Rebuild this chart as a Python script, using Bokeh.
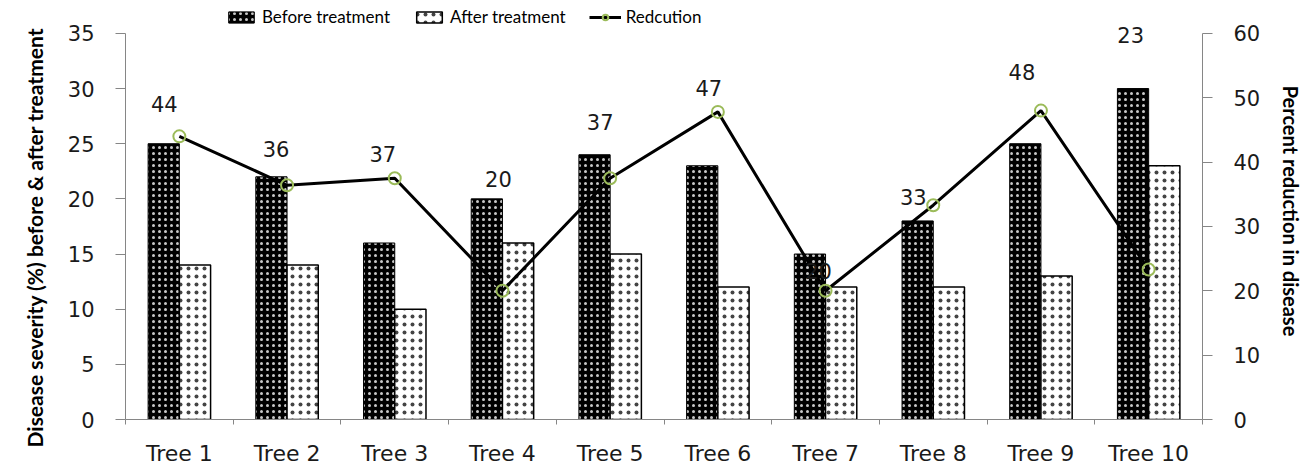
import numpy as np
from bokeh.plotting import figure
from bokeh.models import (Range1d, LinearAxis, FixedTicker, Legend, LegendItem,
                          ColumnDataSource, Title)
from bokeh.core.properties import value
from bokeh.embed import file_html
from bokeh.resources import INLINE

trees = ["Tree 1", "Tree 2", "Tree 3", "Tree 4", "Tree 5",
         "Tree 6", "Tree 7", "Tree 8", "Tree 9", "Tree 10"]
before = [25, 22, 16, 20, 24, 23, 15, 18, 25, 30]
after = [14, 14, 10, 16, 15, 12, 12, 12, 13, 23]
reduction = [44.0, 36.4, 37.5, 20.0, 37.5, 47.8, 20.0, 33.3, 48.0, 23.3]
reduction_labels = ["44", "36", "37", "20", "37", "47", "20", "33", "48", "23"]
left_ticks = [0, 5, 10, 15, 20, 25, 30, 35]
right_ticks = [0, 10, 20, 30, 40, 50, 60]

# label placement (screen pixel offsets from each point)
label_dx = [-15, -11, -12, -4, -10, -9, -7, -20, -19, -18]
label_dy = [-32, -36, -24, -112, -56, -24, -20, -8, -39, -235]

n = len(trees)
centers = np.arange(n) + 0.5
bw = 0.29

LEFT_MAX, RIGHT_MAX = 35, 60
HEADROOM = 37.8 / 35.0   # frame extends above the axes' top for legend/labels

AXIS_GRAY = "#868686"
TICK_FONT = "DejaVu Sans"
TITLE_FONT = "Lato"

p = figure(width=1312, height=468, output_backend="svg", toolbar_location=None,
           x_range=Range1d(0, n), y_range=Range1d(0, LEFT_MAX * HEADROOM),
           min_border_left=125, min_border_right=110, min_border_top=2,
           min_border_bottom=46)
p.outline_line_color = None
p.xgrid.grid_line_color = None
p.ygrid.grid_line_color = None
p.background_fill_color = "white"
p.border_fill_color = "white"

p.extra_y_ranges = {"right": Range1d(0, RIGHT_MAX * HEADROOM)}

src = ColumnDataSource(dict(
    xb=centers - bw / 2, xa=centers + bw / 2, xc=centers,
    before=before, after=after, red=reduction, lab=reduction_labels,
    dx=label_dx, dy=label_dy))

rb = p.vbar(x="xb", top="before", width=bw, source=src, fill_color="black",
            line_color="black", line_width=1,
            hatch_pattern="dot", hatch_color="#c8c8c8", hatch_scale=6, hatch_weight=1.5)
ra = p.vbar(x="xa", top="after", width=bw, source=src, fill_color="white",
            line_color="black", line_width=1.5,
            hatch_pattern="dot", hatch_color="#444444", hatch_scale=8, hatch_weight=1.0)

rl = p.line(x="xc", y="red", source=src, y_range_name="right",
            line_color="black", line_width=3)
rm = p.scatter(x="xc", y="red", source=src, y_range_name="right", marker="circle",
               size=12, fill_color=None, line_color="#9BBB59", line_width=2)

p.text(x="xc", y="red", text="lab", source=src, y_range_name="right",
       x_offset="dx", y_offset="dy", text_align="center", text_baseline="middle",
       text_font=value(TICK_FONT), text_font_size="21px", text_color="#1a1a1a")

# axes
xax = p.xaxis[0]
xax.ticker = FixedTicker(ticks=list(centers), minor_ticks=list(range(n + 1)))
xax.major_label_overrides = {float(c): t for c, t in zip(centers, trees)}
xax.major_tick_out = 0
xax.major_tick_in = 0
xax.minor_tick_out = 5
xax.minor_tick_in = 0
xax.minor_tick_line_color = AXIS_GRAY
xax.axis_line_color = AXIS_GRAY
xax.major_label_text_font = TICK_FONT
xax.major_label_text_font_size = "22px"
xax.major_label_text_color = "#1a1a1a"
xax.major_label_standoff = 16

yax = p.yaxis[0]
yax.ticker = FixedTicker(ticks=left_ticks)
yax.bounds = (0, LEFT_MAX)
yax.axis_line_color = AXIS_GRAY
yax.major_tick_line_color = AXIS_GRAY
yax.major_tick_out = 10
yax.major_tick_in = 0
yax.minor_tick_line_color = None
yax.major_label_text_font = TICK_FONT
yax.major_label_text_font_size = "21px"
yax.major_label_text_color = "#1a1a1a"
yax.major_label_standoff = 21

left_title = Title(text="Disease severity (%) before & after treatment",
                   align="left", vertical_align="top", offset=-28, standoff=32,
                   text_font=TITLE_FONT, text_font_style="bold",
                   text_font_size="21px", text_color="black")
p.add_layout(left_title, "left")

ry = LinearAxis(y_range_name="right", ticker=FixedTicker(ticks=right_ticks),
                bounds=(0, RIGHT_MAX))
ry.axis_line_color = AXIS_GRAY
ry.major_tick_line_color = AXIS_GRAY
ry.major_tick_out = 10
ry.major_tick_in = 0
ry.minor_tick_line_color = None
ry.major_label_text_font = TICK_FONT
ry.major_label_text_font_size = "21px"
ry.major_label_text_color = "#1a1a1a"
ry.major_label_standoff = 21
ry.axis_label = "Percent reduction in disease"
ry.axis_label_orientation = "vertical"
ry.axis_label_text_font = TITLE_FONT
ry.axis_label_text_font_style = "bold"
ry.axis_label_text_font_size = "20px"
ry.axis_label_text_color = "black"
ry.axis_label_standoff = 16
p.add_layout(ry, "right")

legend = Legend(items=[
    LegendItem(label="Before treatment", renderers=[rb]),
    LegendItem(label="After treatment", renderers=[ra]),
    LegendItem(label="Redcution", renderers=[rl, rm]),
], orientation="horizontal", location=(100, 392),
    label_text_font=TITLE_FONT, label_text_font_size="17px",
    label_text_color="black", glyph_width=32, glyph_height=14,
    label_standoff=5, spacing=23, padding=0, margin=0,
    border_line_color=None, background_fill_alpha=0)
p.add_layout(legend, "center")

open("out.html", "w").write(file_html(p, INLINE))
